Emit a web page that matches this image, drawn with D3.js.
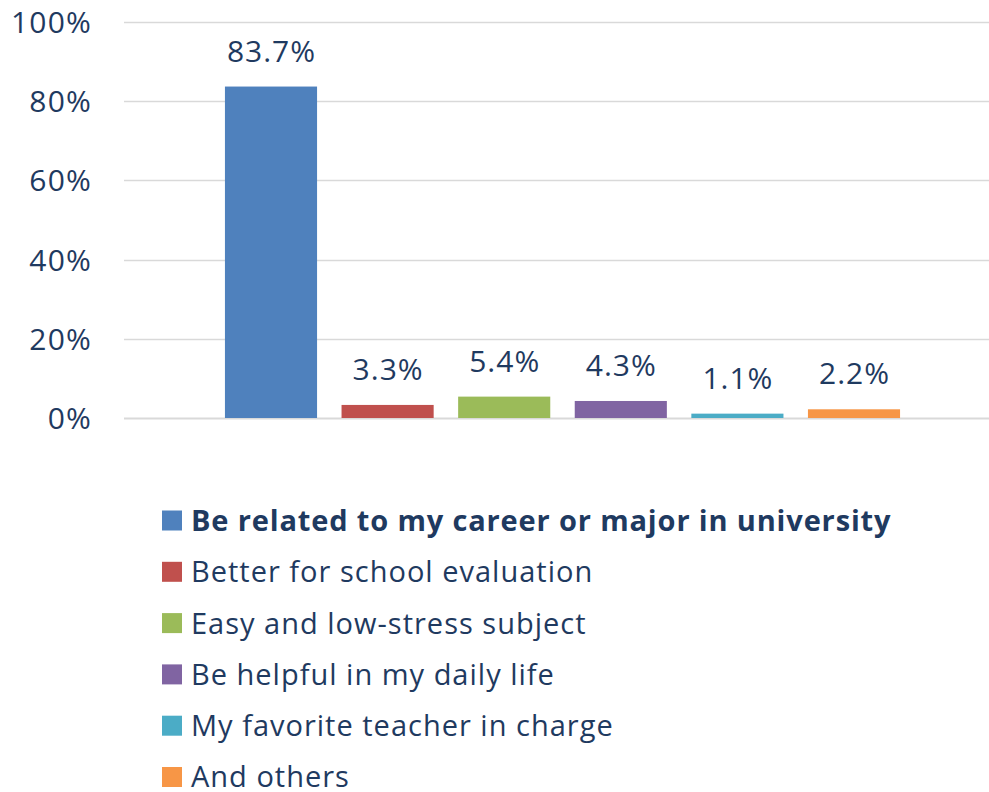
<!DOCTYPE html>
<html>
<head>
<meta charset="utf-8">
<script src="https://cdnjs.cloudflare.com/ajax/libs/d3/7.8.5/d3.min.js"></script>
<style>
  body { margin: 0; background: #fff; }
  text { font-family: "Open Sans", "Noto Sans", sans-serif; fill: #1f3a60; }
</style>
</head>
<body>
<div id="chart"></div>
<script>
// data
var categories = [
  "Be related to my career or major in university",
  "Better for school evaluation",
  "Easy and low-stress subject",
  "Be helpful in my daily life",
  "My favorite teacher in charge",
  "And others"
];
var values = [83.7, 3.3, 5.4, 4.3, 1.1, 2.2];
var colors = ["#4f81bd", "#c0504d", "#9bbb59", "#8064a2", "#4bacc6", "#f79646"];
var yTicks = [0, 20, 40, 60, 80, 100];

var W = 989, H = 792;
var plot = { left: 124, right: 989, top: 22, bottom: 418 };

var svg = d3.select("#chart").append("svg")
  .attr("width", W)
  .attr("height", H);

var y = d3.scaleLinear()
  .domain([0, 100])
  .range([plot.bottom, plot.top]);

var x = d3.scaleBand()
  .domain(categories)
  .range([212.7, 912.3])
  .paddingInner(0.21)
  .paddingOuter(0.105);

// gridlines
svg.append("g")
  .selectAll("line")
  .data(yTicks)
  .enter().append("line")
  .attr("x1", plot.left)
  .attr("x2", plot.right)
  .attr("y1", d => Math.round(y(d)) + 0.5)
  .attr("y2", d => Math.round(y(d)) + 0.5)
  .attr("stroke", "#d9d9d9")
  .attr("stroke-width", d => d === 0 ? 2 : 1.3);

// y axis labels
var yAxis = svg.append("g")
  .attr("transform", "translate(" + (plot.left - 32) + ",0)")
  .call(d3.axisLeft(y).tickValues(yTicks).tickSize(0).tickPadding(0).tickFormat(d => d + "%"));
yAxis.select(".domain").remove();
yAxis.selectAll("text")
  .style("font-family", "'Open Sans', 'Noto Sans', sans-serif")
  .style("font-size", "30px")
  .style("letter-spacing", "1.2px")
  .attr("fill", "#1f3a60")
  .attr("dy", "0.35em");

// bars
svg.append("g")
  .selectAll("rect")
  .data(categories)
  .enter().append("rect")
  .attr("x", d => x(d))
  .attr("width", x.bandwidth())
  .attr("y", (d, i) => y(values[i]))
  .attr("height", (d, i) => y(0) - y(values[i]))
  .attr("fill", (d, i) => colors[i]);

// value labels
svg.append("g")
  .selectAll("text")
  .data(categories)
  .enter().append("text")
  .attr("x", d => x(d) + x.bandwidth() / 2 + 0.5)
  .attr("y", (d, i) => y(values[i]) - 25)
  .attr("text-anchor", "middle")
  .style("font-size", "30px")
  .style("letter-spacing", "1px")
  .text((d, i) => values[i].toFixed(1) + "%");

// legend
var legend = svg.append("g")
  .attr("transform", "translate(162,520.5)");

var item = legend.selectAll("g")
  .data(categories)
  .enter().append("g")
  .attr("transform", (d, i) => "translate(0," + (i * 51.3) + ")");

item.append("rect")
  .attr("x", 0)
  .attr("y", -10)
  .attr("width", 20)
  .attr("height", 20)
  .attr("fill", (d, i) => colors[i]);

item.append("text")
  .attr("x", 29)
  .attr("dy", "0.36em")
  .style("font-size", "29px")
  .style("font-weight", (d, i) => i === 0 ? "bold" : "normal")
  .style("letter-spacing", (d, i) => i === 0 ? "0.85px" : "1px")
  .text(d => d);
</script>
</body>
</html>
